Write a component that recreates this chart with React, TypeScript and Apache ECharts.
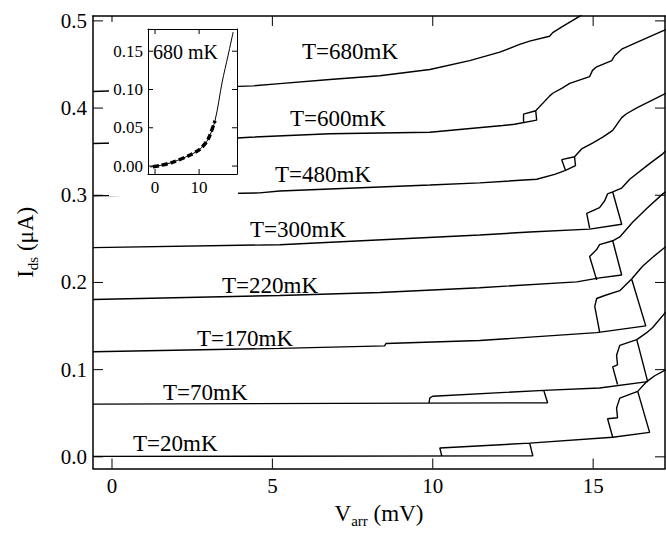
import React, { useEffect, useRef } from 'react';
import * as echarts from 'echarts';

const FONT = '"Liberation Serif", "Times New Roman", serif';

// tick values
const xTicks = [0, 5, 10, 15];
const yTicks = [0, 0.1, 0.2, 0.3, 0.4, 0.5];
const insetXTicks = [0, 10];
const insetYTicks = [0, 0.05, 0.1, 0.15];

// I-V curves (V in mV, I in uA), traced including hysteresis loops
const t680 = [[-0.59, 0.419], [4.4, 0.4255], [5.23, 0.428], [6.79, 0.4327], [8.35, 0.437], [9.91, 0.4443], [11.15, 0.4544], [12.09, 0.4641], [12.71, 0.473], [13.02, 0.4768], [13.64, 0.4824], [13.74, 0.4865], [14.05, 0.4936], [14.64, 0.5067]];
const t600 = [[-0.59, 0.3593], [2.12, 0.3616], [4.3, 0.3666], [6.79, 0.3705], [9.91, 0.3722], [12.18, 0.38], [12.55, 0.3815], [13.24, 0.3862], [13.21, 0.3969], [12.83, 0.393], [12.83, 0.3834], [12.83, 0.393], [13.21, 0.3969], [13.64, 0.4137], [13.74, 0.417], [14.02, 0.4226], [14.27, 0.4283], [14.89, 0.4361], [14.98, 0.4432], [15.11, 0.4473], [15.58, 0.4544], [15.67, 0.46], [15.89, 0.4675], [16.36, 0.4753], [17.26, 0.4899]];
const t480 = [[-0.59, 0.2993], [4.6, 0.3027], [5.23, 0.3049], [9.91, 0.3117], [11.46, 0.3142], [13.24, 0.3184], [13.8, 0.324], [14.14, 0.3285], [14.45, 0.3341], [14.42, 0.3442], [14.02, 0.3408], [14.14, 0.3285], [14.02, 0.3408], [14.42, 0.3442], [14.64, 0.3531], [14.98, 0.3599], [15.3, 0.3666], [15.61, 0.3744], [15.89, 0.389], [16.04, 0.3935], [16.36, 0.4002], [17.17, 0.4151], [17.26, 0.417]];
const t300 = [[-0.59, 0.2399], [5.23, 0.2433], [11.46, 0.2545], [13.02, 0.2578], [14.89, 0.2612], [15.89, 0.2668], [15.61, 0.3038], [15.45, 0.3016], [15.36, 0.2937], [15.2, 0.2859], [14.8, 0.2791], [14.89, 0.2623], [14.8, 0.2791], [15.2, 0.2859], [15.36, 0.2937], [15.45, 0.3016], [15.61, 0.3038], [15.89, 0.3083], [16.14, 0.3184], [16.76, 0.3363], [17.17, 0.3475], [17.26, 0.3509]];
const t220 = [[-0.59, 0.1805], [5.23, 0.185], [8.35, 0.1884], [11.46, 0.1939], [14.49, 0.2007], [15.2, 0.2052], [15.89, 0.2085], [15.61, 0.2478], [15.2, 0.2433], [15.11, 0.2377], [14.89, 0.2298], [15.11, 0.2029], [14.89, 0.2298], [15.11, 0.2377], [15.2, 0.2433], [15.61, 0.2478], [15.83, 0.2522], [16.23, 0.2691], [16.67, 0.2848], [17.17, 0.3016], [17.26, 0.3038]];
const t170 = [[-0.59, 0.1205], [5.23, 0.1244], [8.5, 0.1272], [8.54, 0.13], [11.46, 0.1334], [15.11, 0.1424], [16.64, 0.1502], [16.2, 0.204], [15.83, 0.1906], [15.36, 0.185], [15.11, 0.1816], [15.05, 0.1726], [15.2, 0.1435], [15.05, 0.1726], [15.11, 0.1816], [15.36, 0.185], [15.83, 0.1906], [16.2, 0.204], [16.54, 0.2186], [16.85, 0.2287], [17.26, 0.241]];
const t70 = [[-0.59, 0.0605], [13.58, 0.062], [13.46, 0.0762], [10.0, 0.0695], [9.91, 0.0676], [9.88, 0.0617], [9.91, 0.0676], [10.0, 0.0695], [13.46, 0.0762], [15.2, 0.079], [16.7, 0.0863], [16.36, 0.1345], [15.83, 0.1278], [15.73, 0.1166], [15.76, 0.1054], [15.61, 0.1031], [15.76, 0.083], [15.61, 0.1031], [15.76, 0.1054], [15.73, 0.1166], [15.83, 0.1278], [16.36, 0.1345], [16.67, 0.1424], [16.85, 0.148], [17.26, 0.1659]];
const t20 = [[-0.59, 0.0005], [13.12, 0.0011], [13.02, 0.0157], [10.22, 0.0101], [10.28, 0.001], [10.22, 0.0101], [13.02, 0.0157], [15.61, 0.0224], [16.76, 0.028], [16.39, 0.0751], [15.83, 0.0673], [15.73, 0.0561], [15.76, 0.0448], [15.45, 0.0437], [15.61, 0.0224], [15.45, 0.0437], [15.76, 0.0448], [15.73, 0.0561], [15.83, 0.0673], [16.39, 0.0751], [16.67, 0.0863], [16.92, 0.093], [17.26, 0.0998]];

const curves = [t20, t70, t170, t220, t300, t480, t600, t680];
const curveNames = ['T=20mK', 'T=70mK', 'T=170mK', 'T=220mK', 'T=300mK', 'T=480mK', 'T=600mK', 'T=680mK'];

// inset: 680 mK measured curve and fit
const insetMeasured = [[-1.14, -0.0013], [1.14, 0.0007], [4.09, 0.0052], [7.95, 0.0144], [10.23, 0.0222], [12.05, 0.0352], [13.64, 0.06], [15.23, 0.1097], [16.59, 0.1449], [17.73, 0.175]];
const insetFit = [[-0.5, -0.0008], [1.14, 0.0007], [4.09, 0.0052], [7.95, 0.0144], [10.23, 0.0222], [12.05, 0.0352], [13.6, 0.0592]];
const insetTitle = '680 mK';

// label anchor positions (pixels)
const labelPos = [[133, 443], [163, 392], [197, 338], [222, 285], [250, 229], [275, 174], [290, 118], [302, 51]];

type Ext = { min: number; max: number };

export default function App() {
  const ref = useRef<HTMLDivElement>(null);
  useEffect(() => {
    if (!ref.current) return;
    const chart = echarts.init(ref.current, null, { renderer: 'svg' });
    const mainLine = { show: true, onZero: false, lineStyle: { color: '#000', width: 1.5 } };
    const insLine = { show: true, onZero: false, lineStyle: { color: '#000', width: 1 } };
    const mainX: Ext = { min: -0.592, max: 17.24 };
    const mainY: Ext = { min: -0.0135, max: 0.5056 };
    const insX: Ext = { min: -1.6, max: 18.6 };
    const insY: Ext = { min: -0.0104, max: 0.179 };
    const noTick = { show: false };
    const lab = (vals: number[], size: number, margin: number, fmt?: (v: number) => string) => ({
      show: true, customValues: vals, fontFamily: FONT, fontSize: size, color: '#000', margin,
      ...(fmt ? { formatter: fmt } : {}),
    });
    const richName = {
      b: { fontFamily: FONT, fontSize: 23, lineHeight: 30, color: '#000' },
      s: { fontFamily: FONT, fontSize: 15, lineHeight: 15, verticalAlign: 'bottom', color: '#000' },
    };
    const baseGraphic: any[] = [
      { type: 'rect', z: 50, shape: { x: 109, y: 22, width: 129, height: 174 }, style: { fill: '#fff' } },
      ...curveNames.map((n, i) => ({
        type: 'text', z: 55, x: labelPos[i][0], y: labelPos[i][1],
        style: { text: n, fontFamily: FONT, fontSize: 23, fill: '#000', verticalAlign: 'middle', align: 'left' },
      })),
      {
        type: 'text', z: 65, x: 153, y: 52,
        style: { text: insetTitle, fontFamily: FONT, fontSize: 20, fill: '#000', verticalAlign: 'middle', align: 'left' },
      },
    ];
    const option: any = {
      animation: false,
      backgroundColor: '#fff',
      grid: [
        { left: 93, top: 16, right: 1, bottom: 54, show: false },
        { left: 148, top: 29, width: 89, height: 145, show: false, z: 60 },
      ],
      xAxis: [
        {
          type: 'value', gridIndex: 0, ...mainX, position: 'bottom',
          axisLine: mainLine, splitLine: { show: false }, axisTick: noTick,
          axisLabel: lab(xTicks, 21, 7),
          name: '{b|V}{s|arr}{b| (mV)}', nameLocation: 'middle', nameGap: 27,
          nameTextStyle: { rich: richName },
        },
        {
          type: 'value', gridIndex: 0, ...mainX, position: 'top',
          axisLine: mainLine, splitLine: { show: false }, axisTick: noTick,
          axisLabel: { show: false },
        },
        {
          type: 'value', gridIndex: 1, ...insX, position: 'bottom', z: 61,
          axisLine: insLine, splitLine: { show: false }, axisTick: noTick,
          axisLabel: lab(insetXTicks, 17, 5),
        },
        {
          type: 'value', gridIndex: 1, ...insX, position: 'top', z: 61,
          axisLine: insLine, splitLine: { show: false }, axisTick: noTick,
          axisLabel: { show: false },
        },
      ],
      yAxis: [
        {
          type: 'value', gridIndex: 0, ...mainY, position: 'left',
          axisLine: mainLine, splitLine: { show: false }, axisTick: noTick,
          axisLabel: lab(yTicks, 21, 6, (v: number) => v.toFixed(1)),
          name: '{b|I}{s|ds}{b| (μA)}', nameLocation: 'middle', nameGap: 53,
          nameTextStyle: { rich: richName },
        },
        {
          type: 'value', gridIndex: 0, ...mainY, position: 'right',
          axisLine: mainLine, splitLine: { show: false }, axisTick: noTick,
          axisLabel: { show: false },
        },
        {
          type: 'value', gridIndex: 1, ...insY, position: 'left', z: 61,
          axisLine: insLine, splitLine: { show: false }, axisTick: noTick,
          axisLabel: lab(insetYTicks, 17, 5, (v: number) => v.toFixed(2)),
        },
        {
          type: 'value', gridIndex: 1, ...insY, position: 'right', z: 61,
          axisLine: insLine, splitLine: { show: false }, axisTick: noTick,
          axisLabel: { show: false },
        },
      ],
      graphic: { elements: baseGraphic },
      series: [
        ...curves.map((c, i) => ({
          type: 'line', name: curveNames[i], xAxisIndex: 0, yAxisIndex: 0, data: c,
          showSymbol: false, symbol: 'none', lineStyle: { color: '#000', width: 1.4 }, z: 2,
        })),
        {
          type: 'line', xAxisIndex: 2, yAxisIndex: 2, data: insetMeasured, showSymbol: false, symbol: 'none',
          lineStyle: { color: '#000', width: 1 }, z: 62, smooth: 0.3,
        },
        {
          type: 'line', xAxisIndex: 2, yAxisIndex: 2, data: insetFit, showSymbol: false, symbol: 'none',
          lineStyle: { color: '#000', width: 3.5, type: [6, 3] }, z: 63, smooth: 0.3,
        },
      ],
    };
    chart.setOption(option);

    // inward tick marks on all four sides, positioned through the chart's own scales
    const ticks: any[] = [];
    const addTicks = (gridIndex: number, xv: number[], yv: number[], xe: Ext, ye: Ext, len: number, z: number) => {
      const px = (p: number[]) => chart.convertToPixel({ gridIndex }, p) as number[];
      xv.forEach((v) => {
        const a = px([v, ye.min]);
        const b = px([v, ye.max]);
        ticks.push({ type: 'rect', z, shape: { x: a[0] - 0.5, y: a[1] - len, width: 1, height: len }, style: { fill: '#000' } });
        ticks.push({ type: 'rect', z, shape: { x: b[0] - 0.5, y: b[1], width: 1, height: len }, style: { fill: '#000' } });
      });
      yv.forEach((v) => {
        const a = px([xe.min, v]);
        const b = px([xe.max, v]);
        ticks.push({ type: 'rect', z, shape: { x: a[0], y: a[1] - 0.5, width: len, height: 1 }, style: { fill: '#000' } });
        ticks.push({ type: 'rect', z, shape: { x: b[0] - len, y: b[1] - 0.5, width: len, height: 1 }, style: { fill: '#000' } });
      });
    };
    addTicks(0, xTicks, yTicks, mainX, mainY, 10, 5);
    addTicks(1, insetXTicks, insetYTicks, insX, insY, 5, 66);
    chart.setOption({ graphic: { elements: [...baseGraphic, ...ticks] } });

    return () => chart.dispose();
  }, []);
  return <div ref={ref} style={{ position: 'fixed', left: 0, top: 0, width: 666, height: 533, background: '#fff' }} />;
}
